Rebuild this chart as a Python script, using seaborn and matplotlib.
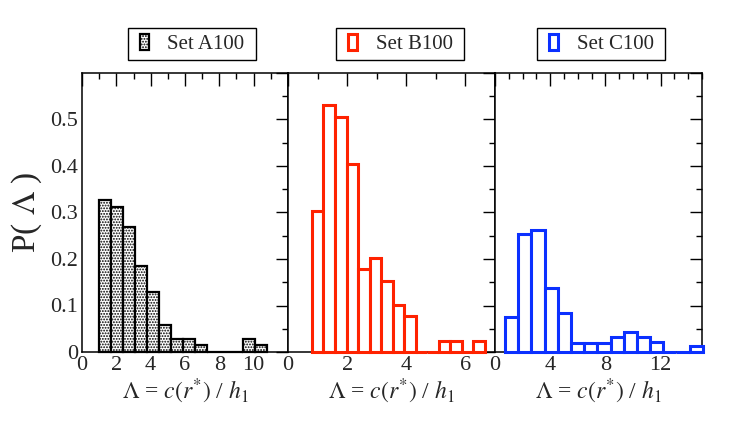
import numpy as np
import matplotlib
matplotlib.use("Agg")
import matplotlib.pyplot as plt
import seaborn as sns
from matplotlib.patches import Patch, Rectangle
from matplotlib.legend_handler import HandlerPatch
from matplotlib.ticker import MultipleLocator, FuncFormatter

# ---- data ----
set_labels = ["Set A100", "Set B100", "Set C100"]

a_bin_start, a_bin_width = 1.0, 0.7
a_heights = [0.326, 0.312, 0.269, 0.184, 0.128, 0.057, 0.029, 0.029, 0.015,
             0.0, 0.0, 0.0, 0.029, 0.015]

b_bin_start, b_bin_width = 0.81, 0.39
b_heights = [0.303, 0.532, 0.506, 0.404, 0.178, 0.202, 0.153, 0.101, 0.077,
             0.0, 0.0, 0.023, 0.023, 0.0, 0.023]

c_bin_start, c_bin_width = 0.73, 0.955
c_heights = [0.075, 0.253, 0.263, 0.137, 0.084, 0.020, 0.020, 0.020, 0.033,
             0.043, 0.033, 0.022, 0.0, 0.0, 0.012]

y_ticks = [0, 0.1, 0.2, 0.3, 0.4, 0.5]
a_xticks = [0, 2, 4, 6, 8, 10]
b_xticks = [0, 2, 4, 6]
c_xticks = [0, 4, 8, 12]

# ---- style ----
sns.set_style("white")
plt.rcParams["font.family"] = ["Liberation Serif", "DejaVu Serif"]
plt.rcParams["mathtext.fontset"] = "stix"
plt.rcParams["hatch.linewidth"] = 0.9

W, H = 747, 428
fig = plt.figure(figsize=(W / 100, H / 100), dpi=100)

def fx(px):
    return px / W

def fy(py):
    return 1 - py / H

top, bottom = 73, 352
panels = [(82, 288), (288, 495), (495, 702)]
legend_cx = [192, 400, 601]
axes = [fig.add_axes([fx(l), fy(bottom), fx(r - l), (bottom - top) / H]) for l, r in panels]

red = "#ff2200"
blue = "#0b30ff"

specs = [
    (a_bin_start, a_bin_width, a_heights, dict(facecolor="white", edgecolor="black", hatch="......", linewidth=1.6), (0, 12), a_xticks, 2),
    (b_bin_start, b_bin_width, b_heights, dict(facecolor="white", edgecolor=red, linewidth=2.2), (0, 7), b_xticks, 2),
    (c_bin_start, c_bin_width, c_heights, dict(facecolor="white", edgecolor=blue, linewidth=2.2), (0, 15), c_xticks, 4),
]

xlabel = r"$\Lambda$ = $c(r^{*})$ / $h_{1}$"


def narrow_patch(legend, orig_handle, xdescent, ydescent, width, height, fontsize):
    w = 0.45 * fontsize
    return Rectangle((-xdescent + (width - w) / 2, -ydescent), w, height)


for i, (ax, (start, width, heights, style, xlim, xticks, major)) in enumerate(zip(axes, specs)):
    n = len(heights)
    edges = [float(e) for e in start + width * np.arange(n + 1)]
    centers = [e + width / 2 for e in edges[:-1]]
    sns.histplot(x=centers, weights=list(heights), bins=edges, stat="count", ax=ax,
                 zorder=3, clip_on=False, **style)
    ax.set_xlim(*xlim)
    ax.set_ylim(0, 0.6)
    ax.xaxis.set_major_locator(MultipleLocator(major))
    ax.xaxis.set_minor_locator(MultipleLocator(1))
    ax.yaxis.set_major_locator(MultipleLocator(0.1))
    ax.yaxis.set_minor_locator(MultipleLocator(0.05))
    ax.xaxis.set_major_formatter(FuncFormatter(lambda v, p, xt=xticks: f"{v:g}" if any(abs(v - t) < 1e-6 for t in xt) else ""))
    ax.yaxis.set_major_formatter(FuncFormatter(lambda v, p: f"{v:g}" if v < 0.55 else ""))
    ax.tick_params(which="both", direction="in", top=True, right=True, width=1.0,
                   labelsize=16, pad=3, color="black")
    ax.tick_params(which="major", length=9)
    ax.tick_params(which="minor", length=4.5)
    if i > 0:
        ax.tick_params(labelleft=False)
        ax.set_ylabel("")
    else:
        ax.set_ylabel(r"P( $\Lambda$ )", fontsize=24, labelpad=4)
    for s in ax.spines.values():
        s.set_linewidth(1.1)
        s.set_color("black")
    ax.set_xlabel(xlabel, fontsize=17, labelpad=1)
    handle = Patch(**style)
    leg = ax.legend([handle], [set_labels[i] + " "], loc="center",
                    bbox_to_anchor=(fx(legend_cx[i]), fy(44)),
                    bbox_transform=fig.transFigure, fontsize=15, frameon=True, fancybox=False,
                    framealpha=1, edgecolor="black", handlelength=1.0, handleheight=0.8,
                    handletextpad=0.6, borderpad=0.3, borderaxespad=0,
                    handler_map={Patch: HandlerPatch(patch_func=narrow_patch)})
    leg.get_frame().set_linewidth(1.0)

fig.savefig("out.png", dpi=100)
